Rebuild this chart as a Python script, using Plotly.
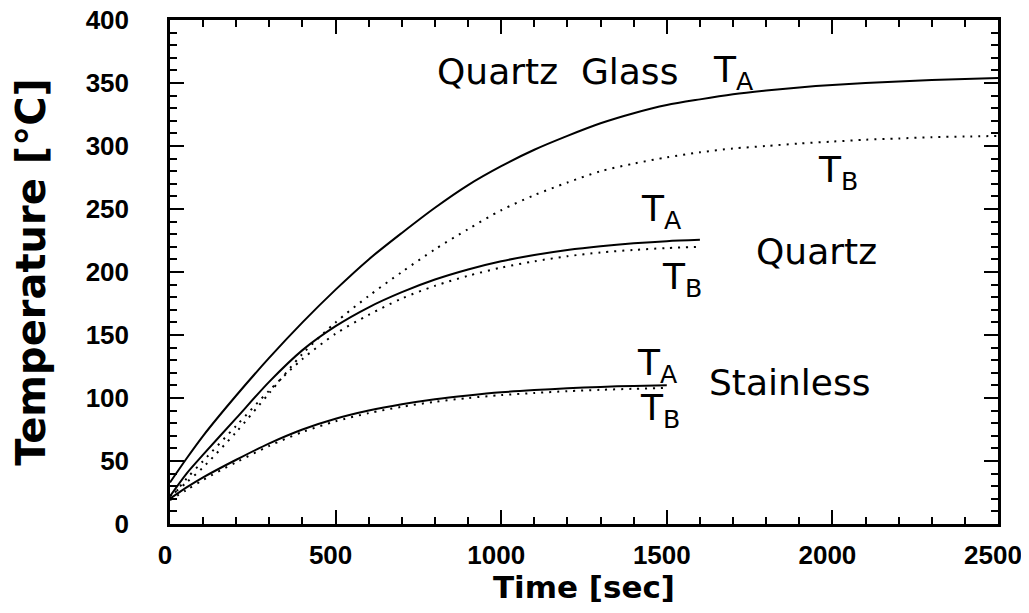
import plotly.graph_objects as go

# ---------------- data ----------------
time_qg = [0, 50, 100, 200, 300, 400, 500, 600, 700, 800, 900, 1000, 1100, 1200, 1300,
           1400, 1500, 1600, 1700, 1800, 1900, 2000, 2100, 2200, 2300, 2400, 2500]
qg_ta = [33, 52, 70, 102, 132, 160, 186, 210, 231, 251, 269, 284, 297, 308, 318,
         326, 332.5, 337, 341, 344, 346.5, 348.5, 350, 351.2, 352.3, 353.2, 354]
qg_tb = [22, 33, 45, 73, 104, 135, 160, 181, 200, 218, 234, 249, 261, 271, 280,
         286, 291, 295, 298, 300, 302, 303.5, 305, 306, 307, 307.5, 308]

time_q = [0, 50, 100, 200, 300, 400, 500, 600, 700, 800, 900, 1000, 1100, 1200, 1300,
          1400, 1500, 1600]
q_ta = [22, 40, 55, 84, 113, 138, 157, 172, 184, 194, 202, 208.5, 213.5, 217.5, 220.5,
        222.8, 224.5, 225.5]
q_tb = [20, 36, 50, 78, 106, 131, 151, 166, 179, 189, 197, 203.5, 208.5, 212.5, 215.5,
        217.5, 219, 220]

time_s = [0, 50, 100, 200, 300, 400, 500, 600, 700, 800, 900, 1000, 1100, 1200, 1300,
          1400, 1500]
s_ta = [20, 29, 37, 51, 64, 75, 83.5, 90, 95, 99, 102, 104.5, 106.3, 107.7, 108.8, 109.6, 110.2]
s_tb = [19, 27, 35, 49, 62, 73, 81.5, 88, 93, 97, 100, 102.3, 104, 105.4, 106.5, 107.3, 108]

x_ticks = [0, 500, 1000, 1500, 2000, 2500]
y_ticks = [0, 50, 100, 150, 200, 250, 300, 350, 400]

labels = [
    ("Quartz  Glass", 1171, 359),
    ("T<sub>A</sub>", 1700, 358),
    ("T<sub>B</sub>", 2017, 279),
    ("T<sub>A</sub>", 1485, 248),
    ("T<sub>B</sub>", 1546, 194),
    ("Quartz", 1953, 216),
    ("T<sub>A</sub>", 1473, 126),
    ("T<sub>B</sub>", 1479, 90),
    ("Stainless", 1872, 112),
]

# ---------------- figure ----------------
fig = go.Figure()
solid = dict(color="black", width=2, shape="spline", smoothing=0.8)
dotted = dict(color="black", width=2, dash="2px,6px", shape="spline", smoothing=0.8)

fig.add_trace(go.Scatter(x=time_qg, y=qg_ta, mode="lines", line=solid))
fig.add_trace(go.Scatter(x=time_qg, y=qg_tb, mode="lines", line=dotted))
fig.add_trace(go.Scatter(x=time_q, y=q_ta, mode="lines", line=solid))
fig.add_trace(go.Scatter(x=time_q, y=q_tb, mode="lines", line=dotted))
fig.add_trace(go.Scatter(x=time_s, y=s_ta, mode="lines", line=solid))
fig.add_trace(go.Scatter(x=time_s, y=s_tb, mode="lines", line=dotted))

for txt, xx, yy in labels:
    fig.add_annotation(x=xx, y=yy, text=txt, showarrow=False, xanchor="center", yanchor="middle",
                       font=dict(family="DejaVu Sans", size=36, color="black"))

tickfont = dict(family="Liberation Sans, Arial", size=26, color="black", weight="bold")

fig.update_xaxes(range=[0, 2500], tickvals=x_ticks, ticktext=[str(v) for v in x_ticks],
                 ticks="inside", ticklen=14, tickwidth=2, tickcolor="black",
                 minor=dict(dtick=100, ticks="inside", ticklen=7, tickwidth=2, tickcolor="black"),
                 showline=True, linewidth=2.5, linecolor="black", mirror="allticks",
                 showgrid=False, zeroline=False, tickfont=tickfont, ticklabelstandoff=6,
                 ticklabelshift=-5, ticklabeloverflow="allow", automargin=False,
                 title=dict(text="Time [sec]",
                            font=dict(family="DejaVu Sans", size=31, color="black", weight="bold"),
                            standoff=14))
fig.update_yaxes(range=[0, 400], tickvals=y_ticks, ticktext=[str(v) for v in y_ticks],
                 ticks="inside", ticklen=14, tickwidth=2, tickcolor="black",
                 minor=dict(dtick=10, ticks="inside", ticklen=7, tickwidth=2, tickcolor="black"),
                 showline=True, linewidth=2.5, linecolor="black", mirror="allticks",
                 showgrid=False, zeroline=False, tickfont=tickfont, ticklabelstandoff=33,
                 ticklabeloverflow="allow", automargin=False,
                 title=dict(text="Temperature [°C]",
                            font=dict(family="DejaVu Sans", size=40, color="black", weight="bold"),
                            standoff=33))

# the page adds an 8px body margin on every side, so the figure is 16px smaller
fig.update_layout(width=1013, height=597, margin=dict(l=162, r=23, t=12, b=81),
                  paper_bgcolor="white", plot_bgcolor="white", showlegend=False)

fig.write_html("out.html")
